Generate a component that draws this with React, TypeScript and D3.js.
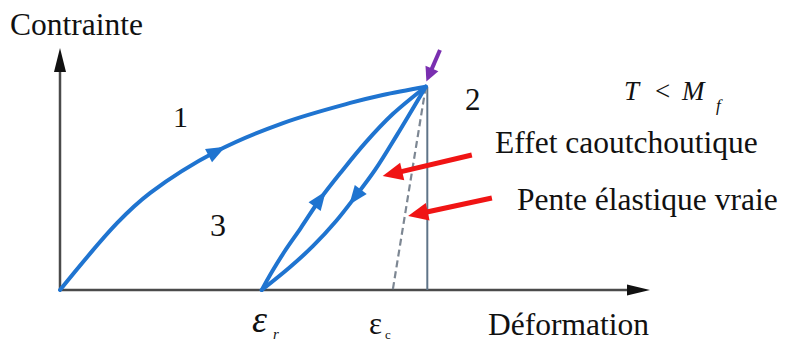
import React from "react";
import * as d3 from "d3";

// Loading path 1: strain (%) / stress (% of range)
const strain1 = [0, 9.7, 15.3, 26.6, 37.8, 49.2, 54.7, 62];
const stress1 = [0, 27.7, 40.1, 57.4, 69.0, 77.3, 80.6, 84];

// Reloading branch from the residual strain back to the peak
const strainReload = [34.2, 35.9, 38.0, 40.8, 44.1, 47.8, 51.7, 56.4, 62];
const stressReload = [0, 7.4, 15.7, 25.6, 37.6, 49.2, 60.7, 72.7, 84];

// Unloading branch from the peak down to the residual strain
const strainUnload = [62, 57.1, 53.4, 50.0, 46.8, 42.9, 39.0, 34.2];
const stressUnload = [84, 64.0, 49.6, 38.4, 28.5, 18.2, 9.5, 0];

const epsC = 56.4;
const peak = { strain: 62, stress: 84 };

const W = 785;
const H = 342;

const x = d3.scaleLinear().domain([0, 100]).range([60, 650]);
const y = d3.scaleLinear().domain([0, 100]).range([290, 48]);

const BLUE = "#1f74d0";
const RED = "#f01414";
const PURPLE = "#7a2fb0";
const SERIF = "Times New Roman, Liberation Serif, DejaVu Serif, serif";

type P = [number, number];
const zipPts = (xs: number[], ys: number[]): P[] => xs.map((v, i) => [v, ys[i]]);

const line = d3
  .line<P>()
  .x((d) => x(d[0]))
  .y((d) => y(d[1]))
  .curve(d3.curveCatmullRom.alpha(0.5));

// Arrowhead sitting on a curve at point index i, oriented along the local tangent
function curveArrow(pts: P[], i: number, len = 19, half = 7.5) {
  const a = pts[Math.max(0, i - 1)];
  const b = pts[Math.min(pts.length - 1, i + 1)];
  const ang = Math.atan2(y(b[1]) - y(a[1]), x(b[0]) - x(a[0]));
  const cx = x(pts[i][0]);
  const cy = y(pts[i][1]);
  const c = Math.cos(ang);
  const s = Math.sin(ang);
  const tip: P = [cx + (c * len) / 2, cy + (s * len) / 2];
  const bx = cx - (c * len) / 2;
  const by = cy - (s * len) / 2;
  const l: P = [bx - s * half, by + c * half];
  const r: P = [bx + s * half, by - c * half];
  return `M${tip[0]},${tip[1]}L${l[0]},${l[1]}L${r[0]},${r[1]}Z`;
}

// Straight annotation arrow from a tail to a tip (in data units)
function Pointer({ from, to, color, width, headLen, headHalf }: {
  from: P; to: P; color: string; width: number; headLen: number; headHalf: number;
}) {
  const x0 = x(from[0]), y0 = y(from[1]);
  const x1 = x(to[0]), y1 = y(to[1]);
  const ang = Math.atan2(y1 - y0, x1 - x0);
  const c = Math.cos(ang), s = Math.sin(ang);
  const bx = x1 - c * headLen, by = y1 - s * headLen;
  const head = `M${x1},${y1}L${bx - s * headHalf},${by + c * headHalf}L${bx + s * headHalf},${by - c * headHalf}Z`;
  return (
    <g>
      <line x1={x0} y1={y0} x2={bx + c * 2} y2={by + s * 2} stroke={color} strokeWidth={width} />
      <path d={head} fill={color} />
    </g>
  );
}

export default function App() {
  const c1 = zipPts(strain1, stress1);
  const cr = zipPts(strainReload, stressReload);
  const cu = zipPts(strainUnload, stressUnload);

  const x0 = x(0), y0 = y(0);
  const xEnd = x(100), yEnd = y(100);

  return (
    <svg
      width={W}
      height={H}
      viewBox={`0 0 ${W} ${H}`}
      style={{ position: "absolute", left: 0, top: 0, background: "#ffffff" }}
    >
      {/* axes */}
      <line x1={x0} y1={y0} x2={x0} y2={yEnd + 20} stroke="#4a4a4a" strokeWidth={2.5} />
      <path d={`M${x0},${yEnd}L${x0 - 6},${yEnd + 24}L${x0 + 6},${yEnd + 24}Z`} fill="#111" />
      <line x1={x0} y1={y0} x2={xEnd - 20} y2={y0} stroke="#4a4a4a" strokeWidth={2.5} />
      <path d={`M${xEnd},${y0}L${xEnd - 23},${y0 - 5.5}L${xEnd - 23},${y0 + 5.5}Z`} fill="#111" />

      {/* vertical drop from the peak and the true elastic slope */}
      <line x1={x(peak.strain) + 1.5} y1={y(peak.stress)} x2={x(peak.strain) + 1.5} y2={y0}
        stroke="#5f7488" strokeWidth={2} />
      <line x1={x(peak.strain)} y1={y(peak.stress)} x2={x(epsC)} y2={y0}
        stroke="#7d8793" strokeWidth={2.2} strokeDasharray="7,4" />

      {/* stress-strain curves */}
      <path d={line(c1) ?? ""} fill="none" stroke={BLUE} strokeWidth={4} strokeLinecap="round" />
      <path d={line(cr) ?? ""} fill="none" stroke={BLUE} strokeWidth={4} strokeLinecap="round" />
      <path d={line(cu) ?? ""} fill="none" stroke={BLUE} strokeWidth={4} strokeLinecap="round" />
      <path d={curveArrow(c1, 3)} fill={BLUE} />
      <path d={curveArrow(cr, 4)} fill={BLUE} />
      <path d={curveArrow(cu, 3)} fill={BLUE} />

      {/* annotation arrows */}
      <Pointer from={[69.8, 55.8]} to={[54.7, 47.1]} color={RED} width={5} headLen={20} headHalf={9} />
      <Pointer from={[73.2, 38.0]} to={[59.0, 30.6]} color={RED} width={5} headLen={20} headHalf={9} />
      <Pointer from={[64.4, 99.2]} to={[62.1, 86.2]} color={PURPLE} width={4} headLen={14} headHalf={7} />

      {/* labels */}
      <g style={{ fontFamily: SERIF }} fill="#111">
        <text x={10} y={35} fontSize={31.5}>Contrainte</text>
        <text x={488} y={335} fontSize={31.5}>Déformation</text>
        <text x={173} y={127} fontSize={30}>1</text>
        <text x={465} y={110} fontSize={31}>2</text>
        <text x={210} y={236} fontSize={32}>3</text>
        <text x={495} y={153} fontSize={31.5}>Effet caoutchoutique</text>
        <text x={517} y={210} fontSize={31.5}>Pente élastique vraie</text>

        <text x={624} y={100} fontSize={27} fontStyle="italic">T</text>
        <text x={655} y={100} fontSize={27}>&lt;</text>
        <text x={682} y={100} fontSize={27} fontStyle="italic">M</text>
        <text x={716} y={111} fontSize={17} fontStyle="italic">f</text>

        <text x={252} y={332} fontSize={38} fontStyle="italic">ε</text>
        <text x={273} y={339} fontSize={15} fontStyle="italic">r</text>
        <text x={369} y={334} fontSize={31}>ε</text>
        <text x={385} y={339} fontSize={13}>c</text>
      </g>
    </svg>
  );
}
